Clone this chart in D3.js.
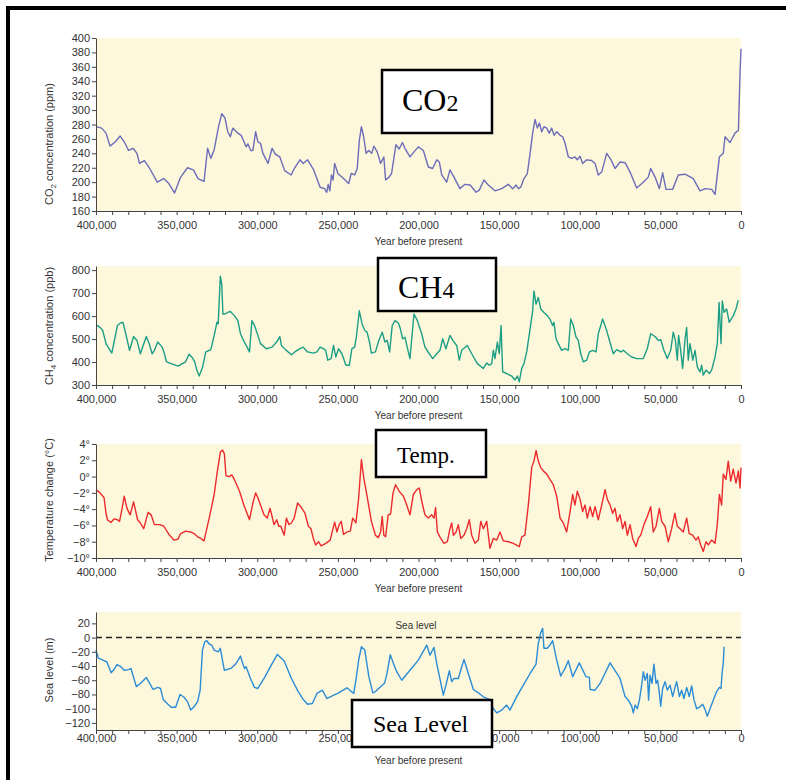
<!DOCTYPE html>
<html>
<head>
<meta charset="utf-8">
<script src="https://cdn.jsdelivr.net/npm/d3@7"></script>
<style>
body { margin: 0; background: #fff; }
</style>
</head>
<body>
<svg id="chart" width="786" height="780"></svg>
<script>
// [thousand years before present, value]
const co2Data = [[400,277],[396.5,275],[393.8,268],[391.3,250],[388,256],[385,264],[382.5,256],[379.8,244],[377,247],[374.6,240],[373,226],[370,230],[366.7,219],[362,200],[358,205],[354.8,198],[351.3,185],[347.5,207],[343.3,220],[339.6,217],[336.7,205],[333,201],[330.8,247],[328.8,233],[326.7,245],[324,277],[322,295],[320,289],[318.3,270],[316.7,263],[315.2,275],[312,268],[310,265],[306.9,249],[305.8,253],[304,244],[302.7,244],[301,270],[299.6,256],[298,254],[296.5,240],[293.3,226],[290.8,247],[288.8,239],[286,235],[283,216],[279,210],[277,219],[273.5,231],[271.5,226],[268.8,231],[265,217],[261,193],[258.3,191],[256.9,186],[256,197],[255,188],[254,210],[253,203],[252,226],[250,212],[246.5,205],[243.3,198],[241.7,212],[239.6,210],[238,219],[236.7,258],[235.4,277],[234,263],[232.5,240],[230.8,244],[229,240],[227.7,250],[225.6,242],[223.5,226],[221.5,235],[220.4,203],[218.3,207],[216.7,212],[214,252],[212,246],[210,255],[208.4,247],[205.3,235],[202.8,242],[200.1,249],[197,244],[193.9,221],[191.2,219],[188.7,231],[187.1,228],[185.6,210],[182.5,200],[180.5,217],[178,207],[174.3,191],[171.2,197],[168,196],[164.3,186],[162.3,189],[159.4,203],[156.7,196],[152.6,188],[148.4,191],[144.3,197],[141.6,191],[139.5,196],[138.1,191],[136.6,193],[134.6,205],[132.5,212],[130.8,240],[129.2,268],[127.7,287],[126.3,275],[125,282],[123.6,270],[122.2,277],[120.5,275],[118.9,268],[117.4,275],[115.9,265],[114.3,270],[112.2,265],[110.6,263],[109.1,254],[107.1,235],[105,233],[103,235],[101.5,231],[99.8,236],[98.2,226],[95.7,231],[92.6,230],[90.5,226],[88.5,210],[86.4,214],[83.3,240],[80.6,231],[78.1,219],[75,228],[71.9,227],[68.8,214],[64.7,192],[60.6,200],[57.5,207],[56,219],[53.3,207],[50.6,191],[48.6,213],[46.5,190],[42.4,190],[38.9,210],[34.7,211],[29.6,205],[25.4,188],[22.3,191],[18.2,190],[16.1,183],[13.4,235],[11,240],[9.9,263],[6.8,255],[3.7,268],[1.6,272],[0.6,351],[0,385]];

const ch4Data = [[400,563],[397.5,551],[395.8,537],[393.8,480],[391.3,451],[390.2,439],[388.8,487],[386.7,559],[385,569],[383.3,573],[381.3,516],[379.2,451],[376.7,511],[374.6,494],[372.5,436],[368.8,511],[367,480],[365.2,436],[363.8,451],[361.7,487],[359,465],[357.9,444],[356.3,401],[351.7,389],[349.2,382],[346.5,393],[344.4,401],[342.3,434],[340.2,419],[338.8,401],[337.5,365],[336,339],[334,376],[331.9,444],[329.8,451],[328.8,454],[326.7,516],[325,573],[324.2,566],[322.9,774],[322,738],[321.3,609],[320,609],[318.3,616],[316.7,620],[314.2,602],[312,580],[310.4,523],[308.3,491],[306.3,465],[304.8,444],[303.3,580],[301.7,559],[299.6,516],[298,480],[294.4,458],[290.8,465],[288,487],[286,511],[285,472],[282.5,454],[278.8,432],[276.7,444],[273.5,458],[271.5,465],[268.8,444],[265.2,439],[263,444],[261,465],[259,458],[257.5,451],[256.3,408],[254.2,415],[252.7,472],[251.3,422],[249.6,458],[247.5,436],[245,386],[242.9,386],[241.3,458],[239.6,465],[238.5,511],[236.7,623],[235,566],[233.3,537],[231.9,530],[230.4,487],[229.2,439],[226.7,444],[224.6,494],[222.5,530],[220.8,487],[219.4,494],[217.9,444],[216.3,559],[214.6,580],[212.5,570],[211.5,551],[209.8,501],[208.4,508],[207,465],[205.3,415],[202.8,609],[200.7,580],[198,523],[196,465],[193.3,436],[191.2,415],[188.7,436],[186.7,451],[185,501],[183,458],[180.5,516],[178.4,491],[176.3,472],[174.7,408],[173.2,451],[169.7,472],[167,436],[163.5,393],[159.8,372],[157.7,396],[156.1,386],[154.6,393],[153.6,451],[152.6,415],[151.1,487],[149.9,436],[148.8,559],[147.8,357],[145.3,350],[142.2,339],[140.2,322],[138.7,339],[137.5,314],[136,372],[134.6,393],[132.9,444],[130.8,544],[129.2,623],[128.4,709],[127.1,652],[125.7,681],[124.2,631],[122.2,616],[120.1,602],[118.5,587],[116.8,559],[116,573],[114.7,501],[113.3,480],[111.2,451],[109.1,458],[107.1,451],[105.6,587],[104,559],[102.3,508],[100.9,494],[99.4,436],[97.8,401],[95.7,408],[94,444],[92,451],[89.9,444],[88.5,523],[85.8,587],[83.3,537],[81.3,487],[79.2,436],[77.1,454],[74.6,444],[73,451],[70.5,436],[67.8,422],[64.7,415],[60.6,415],[58.1,458],[56,523],[53.3,511],[51.3,494],[49.8,497],[47.8,451],[45.7,415],[43.6,451],[42,530],[40.7,494],[39.5,408],[38.7,516],[37.4,451],[36.2,372],[34.7,501],[33.7,551],[32.7,408],[31.6,480],[29.9,408],[28.5,451],[27.1,379],[25.4,357],[24.4,386],[23.4,343],[21.7,365],[19.6,350],[18.2,365],[16.1,422],[14.7,480],[13.6,659],[12.4,480],[11.6,666],[10.5,616],[8.9,631],[7.3,573],[4.8,602],[3.1,631],[1.7,669]];

const tempData = [[400,-1.6],[397.5,-2.0],[395,-2.6],[393.8,-4.5],[392.9,-5.3],[390.8,-5.65],[388.8,-5.2],[386.7,-5.3],[385.4,-5.5],[383.8,-3.9],[382.5,-2.4],[380.8,-3.9],[378.8,-4.7],[376.7,-3.1],[374.2,-5.3],[372.5,-5.7],[370.4,-6.4],[367.7,-4.4],[365.8,-4.7],[363.8,-5.9],[360.4,-5.9],[357.9,-6.1],[354.8,-7.1],[351.7,-7.8],[349.2,-7.7],[347.5,-7.0],[344.4,-6.7],[341.3,-6.8],[339.2,-7.0],[337,-7.4],[335,-7.6],[333,-7.9],[329.8,-5.1],[326.7,-2.2],[325,0.3],[322.9,3.0],[321.5,3.25],[320.4,2.8],[319.4,0.1],[317.3,0],[315.8,0.2],[314.2,-0.35],[311,-1.8],[308.3,-3.5],[304.8,-5.3],[302.7,-3.25],[301,-2.0],[299.6,-2.6],[298,-3.5],[295.8,-4.7],[293.8,-5.1],[292.1,-3.9],[290.8,-4.9],[289.6,-5.9],[287.9,-5.3],[286.7,-6.1],[285.4,-6.1],[283.3,-7.2],[281.9,-5.1],[280.4,-5.9],[278.8,-5.7],[277.1,-5.1],[275,-3.25],[273,-3.7],[270.4,-4.5],[268.3,-6.1],[266.7,-6.4],[265.2,-7.6],[263.8,-8.4],[262,-8.0],[260.4,-8.5],[257.5,-8.2],[254.8,-7.8],[252,-5.6],[250.6,-6.8],[249.2,-5.9],[247.9,-5.5],[246.5,-7.1],[244.4,-6.8],[242.3,-6.7],[240.8,-5.1],[238.8,-5.7],[237.1,-2.6],[235.4,2.1],[234,-0.1],[231.9,-2.4],[229.2,-5.5],[226.7,-7.2],[225,-7.5],[223.5,-6.8],[222.5,-4.9],[221.5,-7.2],[220.4,-7.4],[218.8,-4.7],[217.3,-4.6],[215.8,-2.0],[214.2,-1.0],[212,-1.8],[209.4,-2.4],[207.3,-3.5],[205.3,-4.7],[203.2,-2.2],[201.1,-1.6],[199.5,-1.4],[198,-3.0],[196,-4.7],[193.9,-5.1],[191.8,-4.7],[190.4,-5.1],[189.4,-3.8],[188.3,-6.8],[186.2,-7.6],[184.2,-8.2],[182.1,-8.0],[180.5,-6.4],[179.4,-5.7],[178.4,-7.2],[176.7,-6.8],[175.3,-5.9],[173.8,-7.6],[171.8,-7.2],[170.1,-6.4],[168.5,-5.3],[167,-7.2],[165,-8.2],[162.9,-7.8],[161.4,-5.5],[159.8,-6.4],[157.7,-5.5],[155.7,-8.8],[153.6,-7.6],[151.5,-7.8],[149.5,-6.8],[147.4,-7.9],[144.3,-8.0],[141.2,-8.2],[137.5,-8.6],[136,-7.4],[134,-7.2],[131.9,-3.5],[129.8,1.1],[128.4,1.9],[127.1,3.2],[125.7,1.9],[124.2,1.1],[122.6,0.7],[120.5,0.3],[118.5,-0.35],[116.4,-1.0],[114.3,-2.4],[112.2,-5.1],[110.2,-5.7],[108.1,-6.8],[106,-4.3],[104.4,-2.2],[103,-3.5],[101.5,-1.8],[99.8,-2.8],[98.2,-4.3],[96.7,-3.5],[95.3,-5.1],[93.6,-3.7],[92,-4.9],[90.5,-3.7],[88.5,-5.3],[86.4,-3.5],[84.3,-1.6],[82.9,-2.8],[81.2,-3.5],[79.6,-4.5],[78.1,-3.9],[76.7,-5.5],[75,-4.7],[73.4,-6.4],[71.9,-5.5],[70.5,-7.2],[68.8,-5.9],[67.2,-7.6],[65.1,-8.6],[63.7,-7.6],[62.2,-7.2],[60.2,-5.9],[58.1,-4.9],[56,-3.7],[54.4,-6.8],[52.7,-6.1],[50.6,-3.9],[49.2,-5.5],[47.1,-6.1],[45.1,-8.0],[43,-6.4],[41,-4.5],[39.5,-6.1],[37.8,-6.4],[35.8,-6.8],[33.7,-5.1],[32.1,-7.0],[30,-7.2],[27.9,-7.8],[26.5,-7.4],[25,-8.4],[23.4,-9.2],[21.7,-8.0],[20.3,-8.4],[18.2,-7.8],[16.1,-8.2],[14.7,-5.9],[13.4,-2.2],[12,-3.5],[11,0.3],[9.3,-0.35],[7.9,1.9],[6.4,-0.55],[4.8,0.9],[3.1,-0.8],[1.6,0.7],[0.6,-1.4],[0,1.1]];

const seaData = [[400,-17.6],[398.5,-29],[395.4,-32],[393.3,-34],[390.6,-49.5],[389.2,-46],[387,-38],[384.6,-41],[382.5,-46],[379.8,-45],[378.3,-43.4],[375,-69],[372.5,-64.5],[368.8,-56],[366.7,-64.5],[364.6,-73],[361.7,-70],[360,-71.6],[358.3,-87],[355.4,-93.7],[353.3,-98],[350.6,-98],[347.9,-80],[345.4,-84],[343.3,-90],[341.3,-102],[339.2,-97.4],[337,-90],[335.4,-74],[334,-17.6],[332.5,-5.8],[331.3,-4.4],[329.8,-9],[328.3,-10.5],[326.7,-17.6],[324.2,-20],[322.9,-15],[320.4,-46],[316.3,-43.4],[313.1,-36.4],[310.4,-26],[309,-36.4],[307.9,-43.4],[306.9,-41],[304.2,-57.5],[301.7,-70],[299.6,-71.6],[295.4,-56],[291.3,-38.7],[287.5,-23.7],[283.3,-33],[278.8,-57.5],[274.6,-76],[271.5,-87],[268.8,-93.7],[265.8,-92.7],[263,-78.6],[259.6,-74],[256.9,-85.7],[253.8,-82.4],[249.6,-77.7],[244.4,-70.6],[240.2,-78.6],[238.8,-60],[237.1,-31.7],[235.4,-12.9],[233.3,-17.6],[230.8,-55],[228.3,-77.7],[226.7,-76],[223,-68],[221,-64],[219.5,-50],[217.5,-24],[215.6,-36],[213.5,-48],[210.4,-60],[205.3,-46],[200.1,-31.7],[194.9,-10.5],[192.9,-24.6],[190.4,-13.8],[188.7,-36.4],[184.6,-81],[183,-67],[180.9,-46.7],[179.4,-62],[178,-57.5],[175.3,-57.5],[171.8,-30.7],[169.1,-50.5],[166,-73],[162.9,-77.7],[159.8,-83.3],[156.1,-87],[153.6,-99.8],[151.5,-106],[148.4,-102],[145.3,-95],[143.3,-102],[139.1,-83],[135,-67],[130.8,-50.5],[127.1,-37.3],[125.7,-8],[124.2,6.8],[123,13],[122.2,-15],[120.1,-15],[118.5,-10.5],[116.8,-4.4],[114.3,-31.7],[111.8,-54],[109.1,-43.4],[107.1,-32.6],[104.4,-55],[100.3,-35.5],[96.1,-55],[94,-56],[93.6,-73],[90.5,-74],[87.4,-64.5],[81.2,-35.5],[75,-57.5],[73,-74],[71.9,-83],[69.9,-88],[67.8,-96.5],[66.8,-106],[65.7,-95],[64.3,-100],[63,-88],[61.6,-67],[60.6,-48],[59.5,-60],[58.1,-50.5],[57.3,-88],[56.4,-53],[55.2,-64.5],[54,-37.3],[52.7,-64.5],[51.7,-60],[50.6,-78.6],[49.8,-96.5],[48.6,-71.6],[47.1,-62],[45.7,-74],[44,-67],[42.4,-83],[40.9,-70],[39.9,-62],[38.2,-83],[36.8,-74],[35.4,-85.7],[33.7,-70],[32.1,-83],[30.6,-68],[29.1,-88],[27.5,-100],[25.4,-97.4],[23.8,-93.7],[22.3,-101],[20.9,-110.6],[19.2,-100],[17.2,-88],[15.1,-76],[13.4,-70],[12.4,-71.6],[11.8,-52.8],[11.4,-43.4],[11,-36.4],[10.5,-12.9]];

const yearTicks = d3.range(0, 401, 10);
const co2Ticks = d3.range(160, 401, 20);
const ch4Ticks = d3.range(300, 801, 100);
const tempTicks = d3.range(-10, 5, 2);
const seaTicks = d3.range(-120, 21, 20);

const svg = d3.select("#chart");
const left = 96, right = 741;
const bgColor = "#fdf8dc";
const axisColor = "#444";
const sans = "'Liberation Sans', Arial, sans-serif";
const serif = "'Liberation Serif', 'Times New Roman', serif";

const x = d3.scaleLinear().domain([400, 0]).range([left, right]);
const minus = d => d < 0 ? "\u2212" + Math.abs(d) : "" + d;

const panels = [
    { data: co2Data, color: "#6c6cb8", top: 38, bottom: 211, domain: [160, 400], ticks: co2Ticks,
      fmt: d => d, title: [["CO", 0], ["2", 1], [" concentration (ppm)", 0]], titleY: 144, xPad: 6,
      box: { x: 382, y: 70, w: 110, h: 63, tx: 402, ty: 111, parts: [["CO", 32], ["2", 24]] } },
    { data: ch4Data, color: "#1c9e86", top: 266, bottom: 385, domain: [300, 818], ticks: ch4Ticks,
      fmt: d => d, title: [["CH", 0], ["4", 1], [" concentration (ppb)", 0]], titleY: 326, xPad: 6,
      box: { x: 378, y: 258, w: 118, h: 53, tx: 398, ty: 298, parts: [["CH", 32], ["4", 24]] } },
    { data: tempData, color: "#ec2a2e", top: 444, bottom: 558, domain: [-10, 4], ticks: tempTicks,
      fmt: d => minus(d) + "\u00b0", title: [["Temperature change (\u00b0C)", 0]], titleY: 500, xPad: 6,
      box: { x: 376, y: 430, w: 110, h: 47, tx: 397, ty: 463, parts: [["Temp.", 23]] } },
    { data: seaData, color: "#2b8cd6", top: 612, bottom: 730, domain: [-130, 36], ticks: seaTicks,
      fmt: d => minus(d), title: [["Sea level (m)", 0]], titleY: 670, xPad: 0, seaLine: true,
      hidden: [200], // this label sits fully under the "Sea Level" box
      box: { x: 352, y: 700, w: 140, h: 47, tx: 373, ty: 732, parts: [["Sea Level", 24]] } }
];

// outer frame (top and left only)
svg.append("rect").attr("x", 6).attr("y", 6).attr("width", 780).attr("height", 4).attr("fill", "#000");
svg.append("rect").attr("x", 6).attr("y", 6).attr("width", 4).attr("height", 774).attr("fill", "#000");

function styleAxis(g) {
    g.select(".domain").attr("stroke", axisColor);
    g.selectAll(".tick line").attr("stroke", axisColor);
    g.selectAll(".tick text").attr("fill", "#333").attr("font-family", sans).attr("font-size", "11px");
}

panels.forEach(p => {
    const y = d3.scaleLinear().domain(p.domain).range([p.bottom, p.top]);
    const hidden = p.hidden || [];

    svg.append("rect")
        .attr("x", left)
        .attr("y", p.top)
        .attr("width", right - left)
        .attr("height", p.bottom - p.top)
        .attr("fill", bgColor);

    if (p.seaLine) {
        svg.append("line")
            .attr("x1", left).attr("x2", right)
            .attr("y1", y(0)).attr("y2", y(0))
            .attr("stroke", "#222")
            .attr("stroke-width", 1.5)
            .attr("stroke-dasharray", "6,4");
        svg.append("text")
            .attr("x", 416).attr("y", y(0) - 9)
            .attr("text-anchor", "middle")
            .attr("font-family", sans).attr("font-size", "10px").attr("fill", "#333")
            .text("Sea level");
    }

    const line = d3.line().x(d => x(d[0])).y(d => y(d[1]));
    svg.append("path")
        .datum(p.data)
        .attr("d", line)
        .attr("fill", "none")
        .attr("stroke", p.color)
        .attr("stroke-width", 1.4)
        .attr("stroke-linejoin", "round");

    const xAxis = svg.append("g")
        .attr("transform", `translate(0,${p.bottom})`)
        .call(d3.axisBottom(x)
            .tickValues(yearTicks)
            .tickSize(4)
            .tickSizeOuter(0)
            .tickPadding(p.xPad)
            .tickFormat(d => d % 50 === 0 && !hidden.includes(d) ? d3.format(",")(d * 1000) : ""));
    styleAxis(xAxis);

    const yAxis = svg.append("g")
        .attr("transform", `translate(${left},0)`)
        .call(d3.axisLeft(y)
            .tickValues(p.ticks)
            .tickSize(4)
            .tickSizeOuter(0)
            .tickPadding(2)
            .tickFormat(p.fmt));
    styleAxis(yAxis);

    svg.append("text")
        .attr("x", (left + right) / 2)
        .attr("y", p.bottom + 34)
        .attr("text-anchor", "middle")
        .attr("font-family", sans).attr("font-size", "10px").attr("fill", "#333")
        .text("Year before present");

    const title = svg.append("text")
        .attr("transform", `translate(53,${p.titleY}) rotate(-90)`)
        .attr("text-anchor", "middle")
        .attr("font-family", sans).attr("font-size", "11px").attr("fill", "#333");
    p.title.forEach(([t, sub]) => {
        title.append("tspan")
            .attr("font-size", sub ? "8px" : "11px")
            .attr("dy", sub ? 3 : (title.selectAll("tspan").size() > 1 ? -3 : 0))
            .text(t);
    });

    const b = p.box;
    svg.append("rect")
        .attr("x", b.x).attr("y", b.y)
        .attr("width", b.w).attr("height", b.h)
        .attr("fill", "#fff")
        .attr("stroke", "#000")
        .attr("stroke-width", 2.5);
    const label = svg.append("text")
        .attr("x", b.tx).attr("y", b.ty)
        .attr("font-family", serif).attr("fill", "#000");
    b.parts.forEach(([t, size]) => {
        label.append("tspan").attr("font-size", size + "px").text(t);
    });
});
</script>
</body>
</html>
